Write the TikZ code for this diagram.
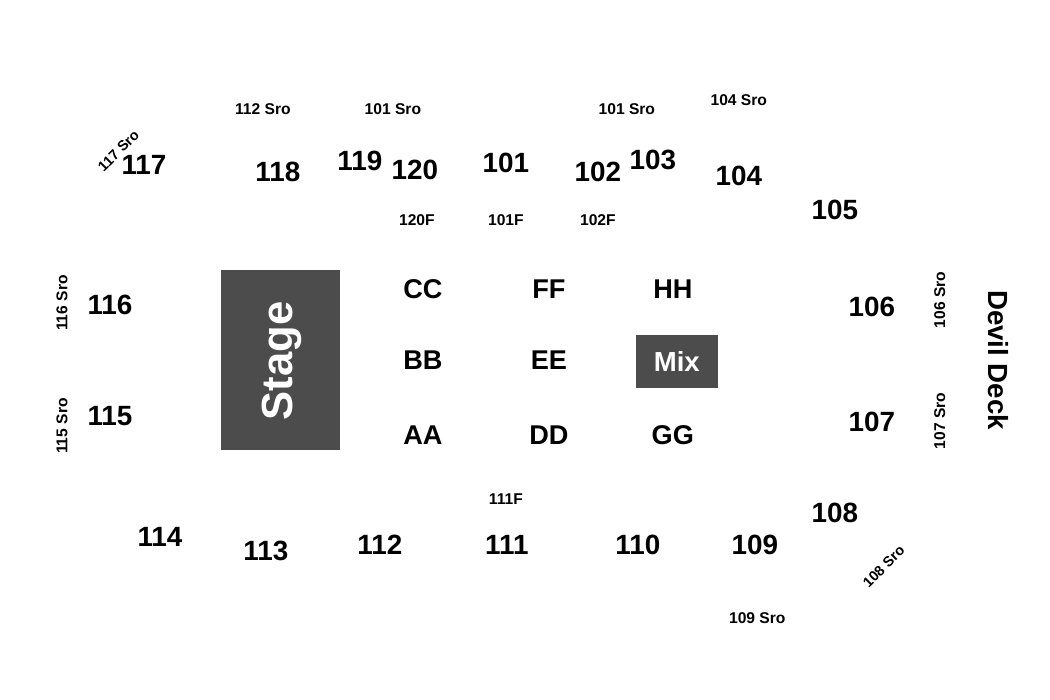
\documentclass[tikz,border=0pt]{standalone}
\usepackage{fontspec}
\setmainfont{Liberation Sans}
\usetikzlibrary{positioning}
\tikzset{
  big/.style={font=\fontsize{19.8}{24}\selectfont\bfseries, text=black, inner sep=0pt},
  mid/.style={font=\fontsize{19.3}{22}\selectfont\bfseries, text=black, inner sep=0pt},
  small/.style={font=\fontsize{11.1}{14}\selectfont\bfseries, text=black, inner sep=0pt},
  tilted/.style={font=\fontsize{10.2}{14}\selectfont\bfseries, text=black, inner sep=0pt, rotate=45},
  block/.style={fill=black!70, draw=none, text=white, inner sep=0pt, font=\bfseries},
}
% 1px = 0.025cm, y flipped
\newcommand{\px}[2]{({#1*0.025},{(700-#2)*0.025})}
\begin{document}
\begin{tikzpicture}
  \useasboundingbox (0,0) rectangle (26.25,17.5);

  \node[block, minimum width=2.975cm, minimum height=4.5cm] (stage) at \px{280.5}{360} {};
  \node[block, rotate=90, font=\fontsize{31}{36}\selectfont\bfseries] (stagetxt) at \px{281.5}{361} {Stage};
  \node[block, minimum width=2.05cm, minimum height=1.325cm, font=\fontsize{19.6}{24}\selectfont\bfseries] (mix) at \px{677}{361} {Mix};

  % sections
  \foreach \name/\x/\y in {117/144/165, 118/278/172, 119/360/161, 120/415/170, 101/506/163,
      102/598/172, 103/653/160, 104/739/176, 105/835/210, 106/872/307, 107/872/422, 108/835/513,
      109/755/545, 110/638/545, 111/507/545, 112/380/545, 113/266/551, 114/160/537, 115/110/416, 116/110/305}
    \node[big] (sec\name) at \px{\x}{\y} {\name};

  % rows
  \foreach \name/\x/\y in {CC/423/289, BB/423/360, AA/423/435, FF/549/289, EE/549/360, DD/549/435,
      HH/673/289, GG/673/435}
    \node[mid] (row\name) at \px{\x}{\y} {\name};

  % standing room
  \node[small] (sro112) at \px{263}{109} {112 Sro};
  \node[small] (sro101a) at \px{393}{109} {101 Sro};
  \node[small] (sro101b) at \px{627}{109} {101 Sro};
  \node[small] (sro104) at \px{739}{100} {104 Sro};
  \node[small] (sro109) at \px{757.5}{618} {109 Sro};
  \node[tilted] (sro117) at \px{118.5}{150.5} {117 Sro};
  \node[tilted] (sro108) at \px{884}{566.5} {108 Sro};
  \node[small, rotate=90] (sro116) at \px{62}{303} {116 Sro};
  \node[small, rotate=90] (sro115) at \px{62}{426} {115 Sro};
  \node[small, rotate=90] (sro106) at \px{940}{300} {106 Sro};
  \node[small, rotate=90] (sro107) at \px{940}{421} {107 Sro};

  \node[small] (f120) at \px{417}{220.5} {120F};
  \node[small] (f101) at \px{506}{220.5} {101F};
  \node[small] (f102) at \px{598}{220.5} {102F};
  \node[small] (f111) at \px{506}{499.5} {111F};

  \node[mid, rotate=-90, font=\fontsize{19.7}{24}\selectfont\bfseries] (deck) at \px{999}{360} {Devil Deck};
\end{tikzpicture}
\end{document}
